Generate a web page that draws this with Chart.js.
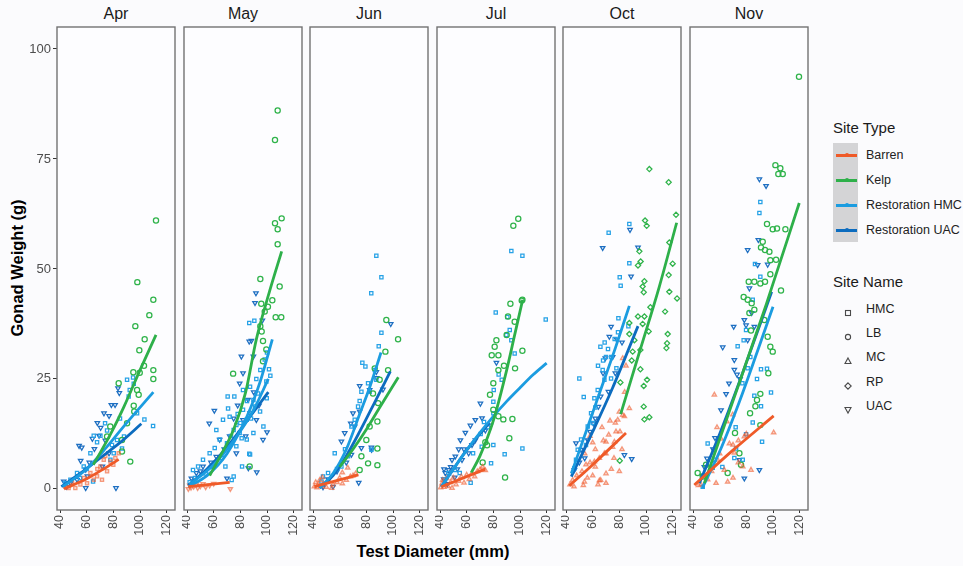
<!DOCTYPE html>
<html>
<head>
<meta charset="utf-8">
<script src="https://cdn.jsdelivr.net/npm/chart.js@4.4.0/dist/chart.umd.min.js"></script>
<style>
  body { margin: 0; background: #fbfbfd; font-family: "Liberation Sans", Arial, sans-serif; }
  #wrap { position: relative; width: 963px; height: 566px; overflow: hidden; background: #fbfbfd; }
  canvas { position: absolute; }
  .strip { position: absolute; top: 4px; width: 118px; line-height: 20px; text-align: center; font-size: 16px; color: #1a1a1a; }
  .axtitle { position: absolute; font-weight: bold; font-size: 16.5px; color: #000; white-space: nowrap; }
  .lgtitle { position: absolute; font-size: 15px; color: #1a1a1a; white-space: nowrap; }
  .lglabel { position: absolute; font-size: 12.5px; color: #222; white-space: nowrap; line-height: 16px; }
  .lgline { position: absolute; height: 3px; width: 21px; }
  .lgdot { position: absolute; width: 4px; height: 4px; border-radius: 2px; }
</style>
</head>
<body>
<div id="wrap">
  <div class="axtitle" id="ytitle" style="left:17px;top:268px;transform:translate(-50%,-50%) rotate(-90deg);">Gonad Weight (g)</div>
  <div class="axtitle" style="left:433px;top:551px;transform:translate(-50%,-50%);">Test Diameter (mm)</div>
  <div class="lgtitle" style="left:833px;top:119px;">Site Type</div>
  <div style="position:absolute;left:833px;top:143px;width:25px;height:99px;background:#d4d4d6;"></div>
  <div class="lgtitle" style="left:833px;top:273px;">Site Name</div>
</div>
<script>
// months (facets) and axis ticks
const months = ['Apr', 'May', 'Jun', 'Jul', 'Oct', 'Nov'];
const xTicks = [40, 60, 80, 100, 120];
const yTicks = [0, 25, 50, 75, 100];
const xMin = 37.75, xMax = 126.25;
const yMin = -4.8, yMax = 105;

const siteTypes = ['Barren', 'Kelp', 'Restoration HMC', 'Restoration UAC'];
const siteNames = ['HMC', 'LB', 'MC', 'RP', 'UAC'];

// point shape used by barren / kelp sites in each month
const barrenShape = ['rect', 'triangleDown', 'triangle', 'triangle', 'triangle', 'triangle'];
const kelpShape = ['circle', 'circle', 'circle', 'circle', 'rectRot', 'circle'];

// observed points [diameter, gonad weight], one list per month
const barrenPts = [
  [[84,8.1],[81.5,7],[77.8,6.2],[72.8,6.6],[70.3,5.1],[75.3,4],[67.8,2.9],[65.3,2.1],[60.3,1.3],[55.3,1],[51.5,0.2],[46.5,0.2],[71.5,2.1],[62.8,3.6],[80,5.5],[68,4.5],[58,2.5],[44,0.5],[74,7.5],[49,1.5]],
  [[41,0],[42,0.8],[43,0.3],[45,0.5],[47,1],[48,0.2],[50,0.6],[52,1.1],[54,0.4],[57,0.8],[60,1.2],[72.5,0]],
  [[41,0.5],[42,1.5],[43,0.3],[44,1],[45,2],[46,0.6],[47,2.6],[48,1.2],[50,0.4],[52,1.8],[54,0.2],[55,1],[58,1.5],[60,2.5],[62,1.2],[62,3.7],[65,2],[66,4.8],[68,2.8],[70,3],[72,3.5]],
  [[40.5,0.3],[41.5,1.2],[42,2],[43,0.4],[44,1],[45,2.4],[46,0.6],[48,1.5],[49,0.2],[50,2.5],[52,1],[54,1.8],[56,2.8],[58,1.4],[60,3.2],[62,2.2],[64,3.6],[66,2.8],[68,4],[70,4.4],[72,5],[74,4.2]],
  [[85,28],[82.5,29.7],[84,22],[80,17.5],[82.5,16.8],[77,15],[80.5,13],[77.5,13],[73,15.5],[67,14],[72,12.3],[68,11],[76.3,10.7],[70,10.7],[58,12],[60,10.5],[75,9.5],[70,8],[68.8,8.1],[54,8],[82,9],[65,7],[76,7],[62,9],[61.3,6.2],[58,6],[55,5.5],[62,5],[74,4.5],[80,4],[52,4],[70,3.5],[60,3],[48,3],[56,2.5],[66,2],[45,2],[65,1.9],[53.8,1.6],[70,1.3],[43,1],[64,1],[53,0.8],[46,0.5],[87.5,18.3],[83.8,16.5],[78.8,15.7]],
  [[56,21.4],[69.8,16.9],[65.5,15.3],[100.5,12.8],[61,11.4],[78.5,11.9],[67.3,10.3],[71,8.2],[58.5,6.6],[77.3,5.1],[63.5,4.3],[83.5,4.3],[57.3,1.3],[51,2.1],[46,1],[66,1.6],[58,14],[74,11],[80,12.5],[70,10],[60,8],[54,4],[44,0.8],[50,3],[70,2.5],[74,6]]
];
const kelpPts = [
  [[112,61],[98,47],[110,43],[107,39.5],[96.5,37],[103.5,34],[99.5,31.5],[110,27],[110,25],[103,28],[95,26.5],[99.8,26.4],[84,24],[97.8,22.5],[99,21.4],[95.3,18.9],[95.7,17.6],[92.7,6.2],[86.5,8.5],[86.5,11.1],[90.3,14.9],[77.7,14.2],[75.3,11.9]],
  [[108,86],[106,79.3],[111,61.5],[106,60.4],[108,59],[108,55.6],[95,47.7],[109.5,46],[104,42.9],[100.7,41.4],[95.7,42.1],[106.5,39],[110.7,39],[98.3,40.3],[95,37],[96,35.8],[97,33.6],[99.5,31.7],[74.6,26.2],[97,29],[87,5.1]],
  [[95,38.4],[103.8,34],[94.3,31.2],[96.3,27],[90,24.8],[88.8,19.5],[88.3,15.3],[88.3,9.2],[88.3,5.4],[81.3,5.8],[80,11.1],[82.5,14.2],[85,21.7],[76.3,7.4],[75,4.3],[86.3,27.4]],
  [[98.7,61.4],[95,59.8],[101.8,43],[92.8,42.1],[91,39.2],[96,38],[101.8,31.4],[83.8,30.4],[78.8,30.4],[96.3,27.4],[80,24],[77.5,21.4],[83.8,16.5],[87.5,15.8],[94.3,15.9],[92,11.5],[88.8,2.6],[74,10.6],[75.3,9.9],[82.3,33.8],[81,32.3],[83.8,27],[101.3,42.8],[90,35],[88,28],[80,18],[72,6]],
  [[102.5,72.7],[117,69.7],[122.5,62.3],[99.3,61],[100.5,59.8],[117.5,56],[95,54],[96,51.7],[94,50.8],[120,51.2],[98.8,47.2],[97.5,46],[98.3,44.7],[117,48.6],[117.5,44.8],[123.3,43.3],[103.3,41.3],[114.3,40.3],[94,39.2],[98.8,39.2],[97.5,37.5],[87.5,37.7],[87.5,35.2],[102,35.8],[116.3,35.2],[115.8,33.1],[115.3,32],[90,31.2],[95.8,31.6],[89.3,29.2],[95.8,27.2],[100.8,24.8],[98.3,23.4],[80.8,24.2],[98.3,18.7],[98.8,15.8],[102.5,16.3],[80.3,6.4],[91.3,33.8]],
  [[119.5,93.7],[101.8,73.6],[105.5,72.9],[104,71.6],[107.3,71.6],[95.5,60.2],[99.8,59],[103,59.2],[109.3,59],[92.3,56.2],[91,54.9],[94,54.3],[97.3,53.9],[98,52],[102.3,52.1],[98,48.8],[106,45.1],[81.8,47.1],[86,47.1],[90.5,46.7],[94,47.1],[78,43.6],[81,43],[84,42.2],[86,40.7],[82.3,40],[83.5,36],[93.5,38.4],[98,32.3],[99.8,31.2],[96.5,26.3],[96,34.6],[90.5,21.6],[88,20.2],[86.8,18.8],[90.5,14.5],[82.8,17.2],[71.5,12.7],[74.8,8.1],[76,5.5],[66,3.6],[43.5,3.6],[47.3,2.8],[49.8,5.5]]
];
const hmcPts = [
  [[90.3,24.8],[94.8,25.3],[95.3,23.9],[92.3,22.5],[91.5,21],[103.3,15.8],[109.8,14.3],[97.8,17.2],[88,11.9],[86.5,9.2],[73.8,14.9],[75.3,13.3],[65.3,12.1],[67.8,10.6],[62.8,8.1],[57.8,5.1],[52.8,3.6],[47.8,2.1],[44,1.3],[64.8,1.7],[77.8,6.6],[80.3,8.1],[82.8,11.1],[70.3,12.1],[85,16],[79,10],[60,4.5],[55,2.5]],
  [[86.7,37.7],[90.5,38.2],[102.5,25.7],[101.5,27.2],[99.5,24.4],[70.5,21],[75.5,21],[70.8,18.3],[82,22.5],[67,15.7],[62,13.4],[72,16.4],[64.5,11.2],[60.8,9.3],[57,8.1],[52,6.6],[48.3,5.1],[44.5,4.3],[68.8,5.1],[75,2.8],[81.3,5.1],[87.3,7.8],[97.3,14.2],[84.8,11.2],[89.8,12.7],[94.8,17.6],[99.8,20.6],[77,9.7],[79.5,12.7],[70,10.4],[75,13.4],[84.8,15.7],[91,18.7],[93.3,21.7],[87.3,23.2],[98.3,29.4],[73.5,2],[86.7,8],[89.8,20.2],[80,15],[82,18],[85,20],[78,17],[88,16],[92,25],[95,27],[66,7],[58,5],[54,3.5],[42,1.5],[46,2.5],[73,12],[77,14.5],[81,11.5],[100,31]],
  [[87.5,53],[91.3,48.1],[83.7,44.5],[91.3,35.5],[89.3,32.4],[77,28.7],[79.3,27.8],[56.3,8.1],[76.3,22.1],[82.5,22.1],[68.8,14.2],[47.5,2.8],[51.3,3.6],[61.3,5.1],[66.3,7.4],[46.3,1.7],[73.8,18.7],[71.3,15.7],[81.3,24],[87.5,24.8],[86.3,27],[83.8,8.9],[58,4.5],[64,9],[75,20]],
  [[93.5,54.1],[101.8,53],[81.8,40.1],[119.3,38.5],[90.5,39.1],[89.8,35],[92.3,36.1],[93.5,33.8],[96,30.8],[86.3,24.8],[80,19.8],[80,17.2],[101.8,9.2],[88.5,7.9],[80,10],[78.3,5.8],[71.3,9.6],[63,1.4],[70.5,12.5],[73,15.2],[80.3,22.5],[54.8,3.6],[46.3,3.6],[43.8,2.2],[51.3,4.3],[64.8,8.1],[84,26],[76,14]],
  [[87.5,60.2],[72,58.2],[80.3,48.1],[81,46.2],[87.5,51.3],[86.8,37],[79.3,38.8],[50,25.1],[53.3,20.9],[65.8,32.3],[69,33.3],[71.5,31.8],[76.5,34.1],[79,35.6],[67.5,27],[68.8,24.8],[61.3,20.6],[63.8,22.5],[73.8,25.1],[58.8,17.2],[56.3,14.2],[51.3,11.2],[48.8,8.9],[47.5,6.6],[46.3,4.7],[67.8,29.2],[77.8,27.4],[64,28],[70,30],[60,15],[55,10],[62,18.5],[74,30]],
  [[90.5,65.2],[89.8,62.7],[86.5,51.1],[90.5,48.2],[84.8,43],[79.8,36.1],[73.5,32.4],[78,33.8],[91,27.2],[95.5,27.3],[98.5,21.9],[86,21.2],[91,18.8],[84.8,15.1],[79.8,12.4],[91.8,10.7],[72.3,9.2],[77.3,6.6],[71,7],[51,10.3],[56,6.6],[54.8,4.8],[47.3,0.5],[81,27.4],[88,25],[83,30],[77,24],[72,14],[62,5]]
];
const uacPts = [
  [[83.5,22.9],[84.5,21.8],[78.5,19.1],[76.8,16.6],[70.5,13.9],[69.3,12.1],[54.3,9.8],[55.5,6.4],[64.3,11.4],[65.8,9.1],[59.3,4.4],[59.3,0.2],[52.8,2.1],[47.8,1.3],[42.8,1.7],[71.8,5.1],[76.8,8.1],[73,17.2],[60.5,2.9],[56.3,9.4],[81.3,19.1],[82,0.2],[68,15],[62,6],[45,0.5],[74,11]],
  [[91.7,44.5],[91,42.3],[96.5,38.3],[88.3,33.7],[80.8,30.1],[79.5,24],[89.8,30.1],[60.5,17.8],[56.7,14.9],[100,12.9],[92.3,3.8],[64.5,11.2],[52,5.1],[47,3.6],[43.3,2.4],[70,2.4],[82,15.7],[85.8,20.3],[77,8.1],[97,11.2],[92,15.7],[87.3,17.2],[86.7,33.5],[82,26.3],[86,4.7],[62,7.3],[72,12],[75,16],[68,9],[84,12],[90,22],[94,19],[78,19],[58,6],[50,4]],
  [[98.3,37.5],[75,23.4],[82.5,22.5],[70,17.2],[75,17.6],[68.3,14.9],[71.3,14.2],[63.8,12.7],[61.3,10.8],[68.8,7.8],[76.3,9.3],[83.8,9.4],[74.3,1.4],[55,0.5],[47.5,0.4],[87.5,26.6],[92.5,22.6],[84,8.9],[87.8,25.2],[51.3,2.2],[58,4],[65,6]],
  [[82.3,28.7],[70.3,19.4],[66.5,15.7],[62.8,14.4],[71.5,16.1],[59,12.8],[55.3,11.1],[54,9],[51.5,7.4],[49,6.6],[46.5,4.3],[44,3.6],[42.8,2.2],[56.5,6.6],[61.5,8.1],[66.5,11.1],[74,13.3],[77.8,14.4],[45.5,1.1],[51,2.6],[48,5],[53,4.5],[58,9],[64,10],[43,4.5]],
  [[67.5,54.8],[88,58.9],[94,54.9],[88.8,48.3],[82,33.3],[78,34],[69.5,29.7],[77,26.3],[71.8,22.1],[64.3,18.7],[60.5,14.9],[56.3,11.1],[51.3,8.9],[47.5,10.4],[46.3,4.3],[83.8,7.7],[89.3,6.8],[67.8,26.3],[72.5,34.6],[73.8,36.9],[62,16],[58,13],[54,7],[50,6],[66,21],[75,30]],
  [[89.8,70.4],[94.8,68.9],[89,56.6],[81,54.3],[88.5,50.9],[96,51],[82.3,45.6],[78.5,38.4],[79.8,37.2],[81,33.8],[70.5,36.9],[62.3,32.2],[86,36.9],[71,27.1],[73,26],[75.3,25],[64.8,21.6],[61,17.9],[56.5,11.6],[50.5,6.9],[48.5,5],[74.8,6.6],[89.8,4.3],[78.5,2.4],[71,29.3],[84,40],[67,24],[55,9],[47,3]]
];

// fitted curves, one per month
const barrenFit = [
  [[43,0],[60,2.3],[72,4.4],[84,6.7]],
  [[41,0.5],[72,1.5]],
  [[41,0.5],[74,3.2]],
  [[41,0.5],[74,4.5]],
  [[42.5,0.7],[60,5.5],[85,12.7]],
  [[41,0.9],[70,8.8],[100.5,16.6]]
];
const kelpFit = [
  [[65,5.5],[78,12.5],[88,18.7],[100,27],[112,35]],
  [[57,3],[66,8],[75,13.5],[84,22],[92,34],[102,45],[111,54]],
  [[60,5],[70,9],[80,13.5],[90,18.5],[104,25.4]],
  [[63.5,3.7],[70,7.5],[80,15.5],[90,27],[96,35],[102,43]],
  [[81,17],[95,31],[110,46],[123,60.5]],
  [[48.5,1.3],[70,20],[95,42],[119.7,65]]
];
const hmcFit = [
  [[42,0.5],[60,4.5],[75,9.5],[90,15],[110,22]],
  [[41,0.5],[55,3],[70,8],[85,16.5],[95,24.5],[104,34]],
  [[45,0.2],[55,3.5],[65,9],[75,17],[83,23.5],[91,31]],
  [[41,0.5],[50,4.5],[60,8.8],[70,12.8],[80,16.5],[90,19.9],[100,23],[110,26],[120,28.6]],
  [[44,3.5],[55,13],[66,22.5],[77,32],[87.5,41.6]],
  [[47,0.2],[60,8.5],[75,20],[88,31],[100,41.4]]
];
const hmcFit2 = [null, [[42,1],[60,5.5],[75,11],[90,18],[101,25]], null, null, null, null];
const uacFit = [
  [[41,0.5],[55,3.5],[70,7],[85,10.5],[101,14.8]],
  [[41,0.8],[55,4.5],[70,9.5],[85,15.5],[101,22]],
  [[45,0.2],[55,3],[65,7.5],[75,13],[86,19.5],[98,26.7]],
  [[41,0.5],[50,4.5],[60,8.8],[70,12.5],[77,15]],
  [[44,2.8],[60,13],[75,23],[94,37]],
  [[44.8,1.3],[60,12.5],[75,24.5],[99,44.8]]
];

const lineColors = ['#ef5a28', '#2eb04a', '#1b9ce0', '#0c6cbf'];
const panelLeft = [57, 184, 310, 437, 563, 690];
const panelW = 118;

const wrap = document.getElementById('wrap');

function pointSet(pts, shape, stroke, fill) {
  const down = shape === 'triangleDown';
  return {
    data: pts.map(p => ({ x: p[0], y: p[1] })),
    pointStyle: down ? 'triangle' : shape,
    rotation: down ? 180 : 0,
    pointRadius: shape === 'rect' ? 2.3 : 2.6,
    borderWidth: 1.25,
    borderColor: stroke,
    backgroundColor: fill,
    showLine: false,
    order: 2
  };
}

function lineSet(pts, color) {
  return {
    data: pts.map(p => ({ x: p[0], y: p[1] })),
    showLine: true,
    borderColor: color,
    borderWidth: 2.8,
    pointRadius: 0,
    fill: false,
    cubicInterpolationMode: 'monotone',
    order: 1
  };
}

// keep every panel's plot box the same size, whatever the labels
function fixBox(s, size, show) {
  if (s.isHorizontal()) s.height = size; else s.width = show ? size : 0;
  s.paddingTop = 0; s.paddingBottom = 0; s.paddingLeft = 0; s.paddingRight = 0;
}

const framePlugin = {
  id: 'frame',
  beforeDatasetsDraw(chart) {
    const a = chart.chartArea, c = chart.ctx;
    c.save();
    c.fillStyle = '#fdfdff';
    c.fillRect(a.left, a.top, a.right - a.left, a.bottom - a.top);
    c.restore();
  },
  afterDraw(chart) {
    const a = chart.chartArea, c = chart.ctx;
    c.save();
    c.strokeStyle = '#727272';
    c.lineWidth = 1.4;
    c.strokeRect(a.left, a.top, a.right - a.left, a.bottom - a.top);
    c.restore();
  }
};

months.forEach((m, i) => {
  const first = i === 0;
  const left = panelLeft[i];
  const cv = document.createElement('canvas');
  const cw = first ? left + panelW + 2 : panelW + 4;
  cv.width = cw;
  cv.height = 527;
  cv.style.left = (first ? 0 : left - 2) + 'px';
  cv.style.top = '25px';
  wrap.appendChild(cv);

  const strip = document.createElement('div');
  strip.className = 'strip';
  strip.style.left = left + 'px';
  strip.textContent = m;
  wrap.appendChild(strip);

  const datasets = [
    lineSet(barrenFit[i], lineColors[0]),
    lineSet(kelpFit[i], lineColors[1]),
    lineSet(hmcFit[i], lineColors[2]),
    lineSet(uacFit[i], lineColors[3]),
    pointSet(barrenPts[i], barrenShape[i], 'rgba(240,95,50,0.6)', 'rgba(240,95,50,0.25)'),
    pointSet(kelpPts[i], kelpShape[i], '#2fb34a', 'rgba(0,0,0,0)'),
    pointSet(hmcPts[i], 'rect', '#27a2e6', 'rgba(0,0,0,0)'),
    pointSet(uacPts[i], 'triangleDown', '#1e6fc2', 'rgba(0,0,0,0)')
  ];
  if (hmcFit2[i]) datasets.splice(3, 0, lineSet(hmcFit2[i], lineColors[2]));

  new Chart(cv, {
    type: 'scatter',
    data: { datasets },
    options: {
      responsive: false,
      animation: false,
      devicePixelRatio: 1,
      layout: { autoPadding: false, padding: { left: first ? 0 : 2, right: 2, top: 2, bottom: 0 } },
      plugins: { legend: { display: false }, tooltip: { enabled: false } },
      scales: {
        x: {
          type: 'linear', min: xMin, max: xMax,
          afterBuildTicks: s => { s.ticks = xTicks.map(v => ({ value: v })); },
          afterFit: s => fixBox(s, 42, true),
          ticks: { minRotation: 90, maxRotation: 90, padding: 2, autoSkip: false, color: '#4d4d4d',
                   font: { family: 'Liberation Sans', size: 12.5 } },
          grid: { drawOnChartArea: false, drawTicks: true, tickLength: 3, color: '#333' },
          border: { display: false }
        },
        y: {
          type: 'linear', min: yMin, max: yMax, display: first,
          afterBuildTicks: s => { s.ticks = yTicks.map(v => ({ value: v })); },
          afterFit: s => fixBox(s, 57, first),
          ticks: { padding: 2, color: '#4d4d4d', font: { family: 'Liberation Sans', size: 13 } },
          grid: { drawOnChartArea: false, drawTicks: true, tickLength: 4, color: '#333' },
          border: { display: false }
        }
      }
    },
    plugins: [framePlugin]
  });
});

// legend: site type keys
siteTypes.forEach((name, k) => {
  const cy = 155 + k * 25;
  const ln = document.createElement('div');
  ln.className = 'lgline';
  ln.style.left = '836px';
  ln.style.top = (cy - 1.5) + 'px';
  ln.style.background = lineColors[k];
  wrap.appendChild(ln);
  const dot = document.createElement('div');
  dot.className = 'lgdot';
  dot.style.left = '844.5px';
  dot.style.top = (cy - 2) + 'px';
  dot.style.background = lineColors[k];
  wrap.appendChild(dot);
  const lb = document.createElement('div');
  lb.className = 'lglabel';
  lb.style.left = '866px';
  lb.style.top = (cy - 8) + 'px';
  lb.textContent = name;
  wrap.appendChild(lb);
});

// legend: site name shapes
const shapeSvg = {
  HMC: '<rect x="2.5" y="2.5" width="5" height="5" />',
  LB: '<circle cx="5" cy="5" r="2.6" />',
  MC: '<polygon points="5,2 8,7.5 2,7.5" />',
  RP: '<polygon points="5,1.8 8.2,5 5,8.2 1.8,5" />',
  UAC: '<polygon points="2,2.5 8,2.5 5,8" />'
};
siteNames.forEach((name, k) => {
  const cy = [309, 333, 357, 382, 406][k];
  const sv = document.createElement('div');
  sv.style.position = 'absolute';
  sv.style.left = '843px';
  sv.style.top = (cy - 5) + 'px';
  sv.innerHTML = '<svg width="10" height="10" fill="none" stroke="#4a4a4a" stroke-width="1.1">' + shapeSvg[name] + '</svg>';
  wrap.appendChild(sv);
  const lb = document.createElement('div');
  lb.className = 'lglabel';
  lb.style.left = '866px';
  lb.style.top = (cy - 8) + 'px';
  lb.textContent = name;
  wrap.appendChild(lb);
});
</script>
</body>
</html>
